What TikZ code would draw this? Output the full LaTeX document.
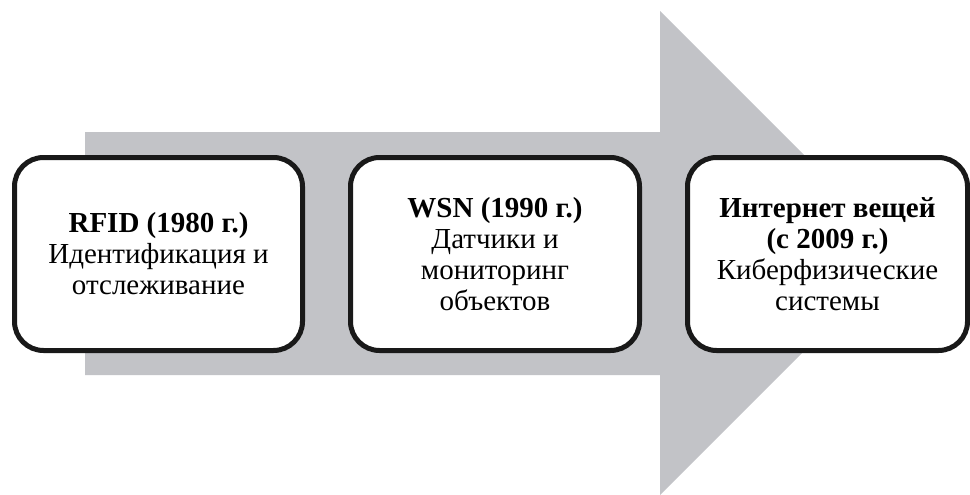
\documentclass[tikz,border=0pt]{standalone}
\usepackage{fontspec}
\setmainfont{Liberation Serif}
\definecolor{arrowgray}{RGB}{194,195,199}
\tikzset{
  stagebox/.style={draw=black!90, line width=5pt, fill=white, rounded corners=29pt,
    minimum height=193pt, inner sep=0pt, align=center,
    font=\fontsize{29}{31}\selectfont},
}
\begin{document}
\begin{tikzpicture}[x=1pt,y=-1pt]
\useasboundingbox (0,0) rectangle (970,495);
\fill[arrowgray] (85,132) -- (660,132) -- (660,11) -- (902,253) -- (660,495) -- (660,375) -- (85,375) -- cycle;
\node[stagebox, minimum width=288pt] (b1) at (158.5,254) {\textbf{RFID (1980 г.)}\\Идентификация и\\отслеживание};
\node[stagebox, minimum width=289pt] (b2) at (495,254) {\textbf{WSN (1990 г.)}\\Датчики и\\мониторинг\\объектов};
\node[stagebox, minimum width=280pt] (b3) at (827.5,254) {\textbf{Интернет вещей}\\\textbf{(с 2009 г.)}\\Киберфизические\\системы};
\end{tikzpicture}
\end{document}
